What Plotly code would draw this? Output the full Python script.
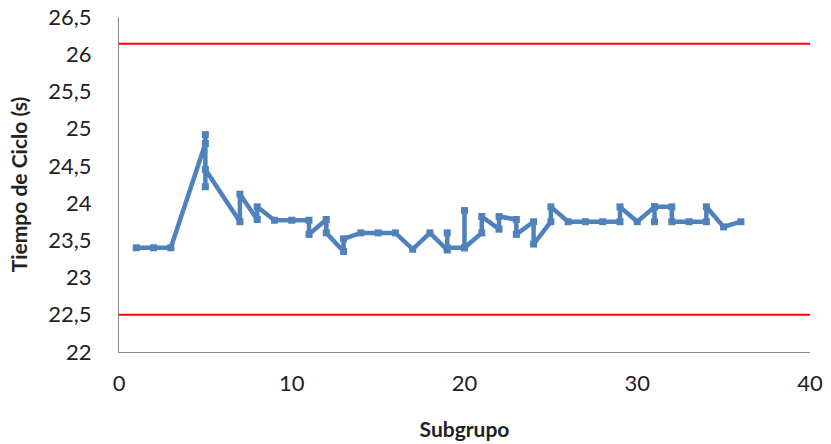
import plotly.graph_objects as go

# Subgroup index and cycle time readings (several readings may share a subgroup)
subgrupo = [1, 2, 3, 5, 5, 5, 5, 7, 7, 8, 8, 9, 10, 11, 11, 12, 12, 13, 13,
            14, 15, 16, 17, 18, 19, 19, 19, 20, 20, 20, 21, 21, 22, 22, 23, 23,
            24, 24, 25, 25, 26, 27, 28, 29, 29, 30, 31, 31, 31, 32, 32, 33,
            34, 34, 35, 36]
tiempo = [23.40, 23.40, 23.40, 24.80, 24.92, 24.22, 24.45, 23.75, 24.12,
          23.78, 23.95, 23.77, 23.77, 23.77, 23.58, 23.78, 23.60, 23.35,
          23.52, 23.60, 23.60, 23.60, 23.38, 23.60, 23.37, 23.60, 23.40,
          23.40, 23.90, 23.40, 23.60, 23.82, 23.65, 23.82, 23.78, 23.58,
          23.75, 23.45, 23.75, 23.95, 23.75, 23.75, 23.75, 23.75, 23.95,
          23.75, 23.95, 23.75, 23.95, 23.95, 23.75, 23.75, 23.75, 23.95,
          23.68, 23.75]

# Control limits
lim_x = [0, 40]
lsc = 26.14
lic = 22.5

azul = "#4F81BD"
rojo = "#FF0000"
fuente = "Lato, Open Sans, sans-serif"

fig = go.Figure()
fig.add_trace(go.Scatter(x=lim_x, y=[lsc, lsc], mode="lines",
                         line=dict(color=rojo, width=2), hoverinfo="skip"))
fig.add_trace(go.Scatter(x=lim_x, y=[lic, lic], mode="lines",
                         line=dict(color=rojo, width=2), hoverinfo="skip"))
fig.add_trace(go.Scatter(x=subgrupo, y=tiempo, mode="lines+markers",
                         line=dict(color=azul, width=4.5),
                         marker=dict(symbol="square", size=7, color=azul)))

fig.update_layout(
    width=831, height=444,
    margin=dict(l=119, r=21, t=17, b=92),
    paper_bgcolor="white", plot_bgcolor="white",
    showlegend=False,
    separators=",.",
    font=dict(family=fuente, color="#222222"),
)
fig.update_xaxes(range=[0, 40], dtick=10, showgrid=False, zeroline=False,
                 showline=True, linecolor="#868686", linewidth=1,
                 ticks="", tickfont=dict(size=22, family=fuente),
                 ticklabelstandoff=12, automargin=False,
                 title=dict(text="<b>Subgrupo</b>", font=dict(size=21, family=fuente),
                            standoff=26))
fig.update_yaxes(range=[22, 26.5], dtick=0.5, showgrid=False, zeroline=False,
                 showline=True, linecolor="#868686", linewidth=1,
                 ticks="", tickfont=dict(size=22, family=fuente),
                 ticklabelstandoff=22, automargin=False,
                 title=dict(text="<b>Tiempo de Ciclo (s)</b>",
                            font=dict(size=21, family=fuente), standoff=14))

fig.write_html("out.html")
